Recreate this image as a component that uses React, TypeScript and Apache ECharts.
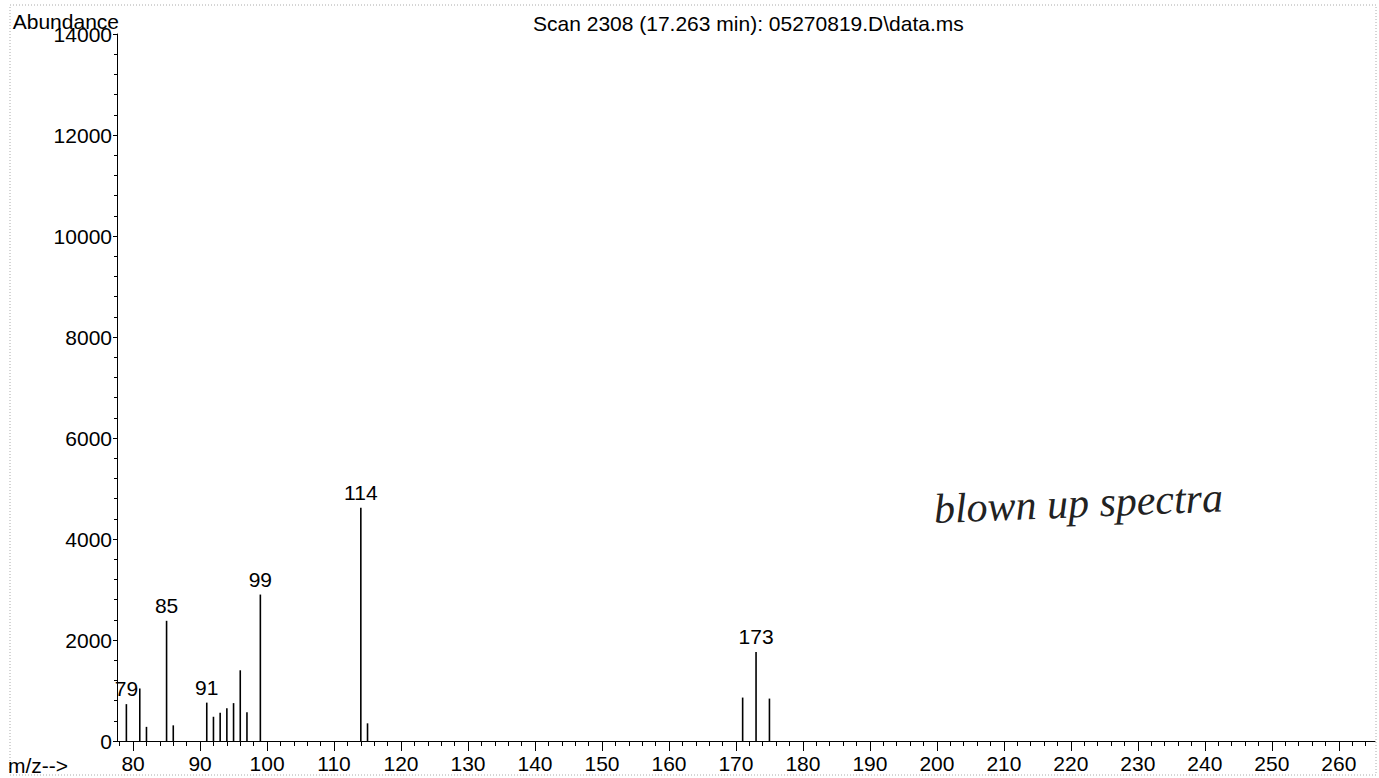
import React, { useEffect, useRef } from "react";
import * as echarts from "echarts";

const mzValues = [79, 81, 82, 85, 86, 91, 92, 93, 94, 95, 96, 97, 99, 114, 115, 171, 173, 175];
const abundanceValues = [730, 1040, 280, 2380, 310, 760, 480, 560, 650, 750, 1400, 570, 2900, 4620, 350, 860, 1760, 840];
const labeledPeaks = [79, 85, 91, 99, 114, 173];
const majorTicks = [80, 90, 100, 110, 120, 130, 140, 150, 160, 170, 180, 190, 200, 210, 220, 230, 240, 250, 260];
const minorTicks = [
  78, 80, 82, 84, 86, 88, 90, 92, 94, 96, 98, 100, 102, 104, 106, 108, 110, 112, 114, 116, 118, 120,
  122, 124, 126, 128, 130, 132, 134, 136, 138, 140, 142, 144, 146, 148, 150, 152, 154, 156, 158, 160,
  162, 164, 166, 168, 170, 172, 174, 176, 178, 180, 182, 184, 186, 188, 190, 192, 194, 196, 198, 200,
  202, 204, 206, 208, 210, 212, 214, 216, 218, 220, 222, 224, 226, 228, 230, 232, 234, 236, 238, 240,
  242, 244, 246, 248, 250, 252, 254, 256, 258, 260, 262, 264,
];
const titleText = "Scan 2308 (17.263 min): 05270819.D\\data.ms";
const yAxisTitle = "Abundance";
const xAxisTitle = "m/z-->";
const note = "blown up spectra";

const FONT = "'Liberation Sans', Arial, sans-serif";

export default function App() {
  const ref = useRef<HTMLDivElement>(null);
  useEffect(() => {
    if (!ref.current) return;
    const chart = echarts.init(ref.current, undefined, { renderer: "svg" });
    const xMin = 77.6;
    const xMax = 265.4;
    chart.setOption({
      animation: false,
      backgroundColor: "#ffffff",
      title: {
        text: titleText,
        left: 528,
        top: 8,
        textStyle: { fontFamily: FONT, fontSize: 21, fontWeight: "normal", color: "#000" },
      },
      grid: { left: 117, right: 4, top: 34, bottom: 37 },
      xAxis: [
        {
          type: "value",
          min: xMin,
          max: xMax,
          position: "bottom",
          axisLine: { show: true, onZero: false, lineStyle: { color: "#000", width: 1 } },
          axisTick: { show: true, length: 10, customValues: majorTicks, lineStyle: { color: "#000" } },
          axisLabel: {
            show: true,
            customValues: majorTicks,
            margin: 12,
            fontFamily: FONT,
            fontSize: 21,
            color: "#000",
            formatter: (v: number) => String(v),
          },
          splitLine: { show: false },
        },
        {
          type: "value",
          min: xMin,
          max: xMax,
          position: "bottom",
          axisLine: { show: false, onZero: false },
          axisTick: { show: true, length: 5, customValues: minorTicks, lineStyle: { color: "#000" } },
          axisLabel: { show: false },
          splitLine: { show: false },
        },
      ],
      yAxis: {
        type: "value",
        min: 0,
        max: 14000,
        interval: 2000,
        axisLine: { show: true, lineStyle: { color: "#000", width: 1 } },
        axisTick: { show: true, length: 4, lineStyle: { color: "#000" } },
        minorTick: { show: true, splitNumber: 5, length: 3, lineStyle: { color: "#000" } },
        axisLabel: {
          margin: 5,
          fontFamily: FONT,
          fontSize: 21,
          color: "#000",
          formatter: (v: number) => String(v),
        },
        splitLine: { show: false },
        minorSplitLine: { show: false },
      },
      graphic: [
        {
          type: "rect",
          shape: { x: 10, y: 5, width: 1366, height: 770 },
          style: { fill: "none", stroke: "#aaa", lineWidth: 1, lineDash: [1, 2] },
          silent: true,
        },
        {
          type: "text",
          x: 119,
          y: 21,
          style: {
            text: yAxisTitle,
            fontFamily: FONT,
            fontSize: 21,
            fill: "#000",
            align: "right",
            textAlign: "right",
            verticalAlign: "middle",
            textVerticalAlign: "middle",
          },
        },
        {
          type: "text",
          x: 8,
          y: 765,
          style: {
            text: xAxisTitle,
            fontFamily: FONT,
            fontSize: 21,
            fill: "#000",
            textVerticalAlign: "middle",
            verticalAlign: "middle",
          },
        },
        {
          type: "text",
          x: 933,
          y: 488,
          rotation: 0.04,
          style: {
            text: note,
            fontFamily: "'Liberation Serif', serif",
            fontStyle: "italic",
            fontSize: 42,
            fill: "#222",
            verticalAlign: "alphabetic",
            textVerticalAlign: "alphabetic",
          },
        },
      ],
      series: [
        {
          type: "bar",
          xAxisIndex: 0,
          yAxisIndex: 0,
          barWidth: 1.6,
          itemStyle: { color: "#000" },
          label: {
            show: false,
            position: "top",
            distance: 5,
            fontFamily: FONT,
            fontSize: 21,
            color: "#000",
          },
          data: mzValues.map((mz, i) => ({
            value: [mz, abundanceValues[i]],
            label: { show: labeledPeaks.includes(mz), formatter: String(mz) },
          })),
        },
      ],
    });
    return () => chart.dispose();
  }, []);
  return (
    <div
      ref={ref}
      style={{ position: "absolute", left: 0, top: 0, width: 1379, height: 778, background: "#fff" }}
    />
  );
}
